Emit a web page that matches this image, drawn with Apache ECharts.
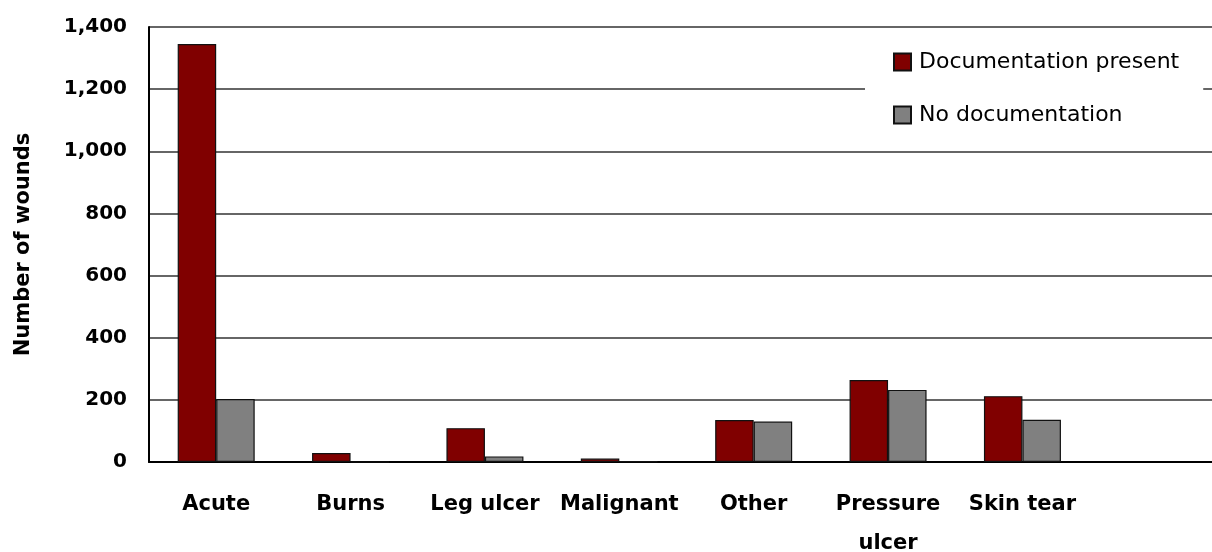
<!DOCTYPE html>
<html>
<head>
<meta charset="utf-8">
<title>Wounds by documentation</title>
<script src="https://cdn.jsdelivr.net/npm/echarts@6/dist/echarts.min.js"></script>
<style>
  html, body { margin: 0; padding: 0; background: #fff; }
  #chart { width: 1212px; height: 552px; }
</style>
</head>
<body>
<div id="chart"></div>
<script>
// categories (last slot is empty in the original, cut at the right edge)
const categories = ['Acute', 'Burns', 'Leg ulcer', 'Malignant', 'Other', 'Pressure\nulcer', 'Skin tear', ''];
// values
const docPresent = [1345, 29, 109, 11, 135, 264, 212, null];
const noDoc = [203, 0, 18, 2, 130, 232, 136, null];
const yTicks = { min: 0, max: 1400, step: 200 };

const font = 'DejaVu Sans';
const chart = echarts.init(document.getElementById('chart'));

const option = {
  animation: false,
  textStyle: { fontFamily: font },
  grid: { left: 149, top: 27, width: 1075, height: 435, outerBoundsMode: 'none', containLabel: false },
  legend: {
    orient: 'vertical',
    left: 865,
    top: 30,
    padding: [21, 24, 20, 28],
    backgroundColor: '#fff',
    itemWidth: 17,
    itemHeight: 17,
    itemGap: 31,
    icon: 'rect',
    textStyle: { fontFamily: font, fontSize: 22, color: '#000', padding: [0, 0, 0, 3] },
    data: ['Documentation present', 'No documentation']
  },
  xAxis: {
    type: 'category',
    data: categories,
    axisLine: { lineStyle: { color: '#000', width: 2 } },
    axisTick: { show: false },
    axisLabel: {
      color: '#000', fontFamily: font, fontWeight: 'bold', fontSize: 21,
      margin: 23, lineHeight: 39, interval: 0
    }
  },
  yAxis: {
    type: 'value',
    min: yTicks.min,
    max: yTicks.max,
    interval: yTicks.step,
    name: 'Number of wounds',
    nameLocation: 'middle',
    nameGap: 115,
    nameTextStyle: { color: '#000', fontFamily: font, fontWeight: 'bold', fontSize: 21 },
    axisLine: { show: true, lineStyle: { color: '#000', width: 2 } },
    axisTick: { show: false },
    axisLabel: {
      color: '#000', fontFamily: font, fontWeight: 'bold', fontSize: 20, margin: 22,
      formatter: v => v.toLocaleString('en-US')
    },
    splitLine: { lineStyle: { color: '#333', width: 1.5 } }
  },
  series: [
    {
      name: 'Documentation present',
      type: 'bar',
      data: docPresent,
      barWidth: 38.5,
      barGap: '0%',
      itemStyle: { color: '#800000', borderColor: '#111', borderWidth: 1.2 }
    },
    {
      name: 'No documentation',
      type: 'bar',
      data: noDoc,
      barWidth: 38.5,
      itemStyle: { color: '#808080', borderColor: '#111', borderWidth: 1.2 }
    }
  ]
};

chart.setOption(option);
</script>
</body>
</html>
